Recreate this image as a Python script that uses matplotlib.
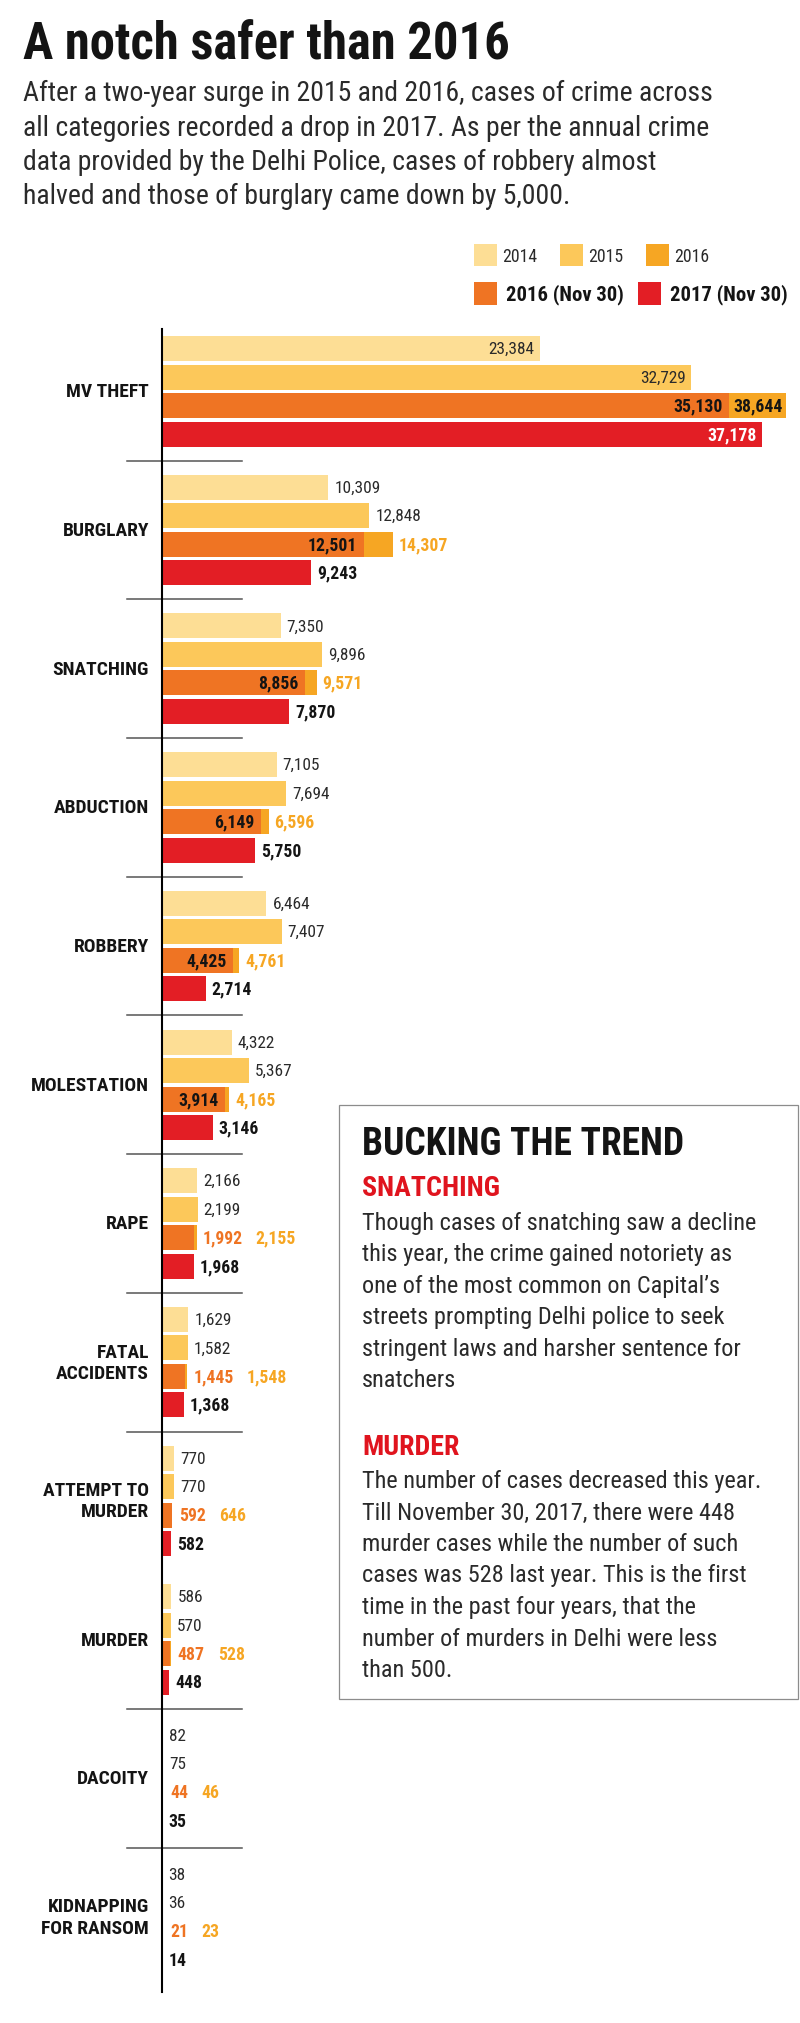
import matplotlib
matplotlib.use("Agg")
import matplotlib.pyplot as plt
import matplotlib.font_manager as fm
import matplotlib.transforms as mtransforms
from matplotlib.patches import Rectangle
from matplotlib.lines import Line2D

# ---------------- data ----------------
categories = ["MV THEFT", "BURGLARY", "SNATCHING", "ABDUCTION", "ROBBERY",
              "MOLESTATION", "RAPE", "FATAL\nACCIDENTS", "ATTEMPT TO\nMURDER",
              "MURDER", "DACOITY", "KIDNAPPING\nFOR RANSOM"]
y2014 = [23384, 10309, 7350, 7105, 6464, 4322, 2166, 1629, 770, 586, 82, 38]
y2015 = [32729, 12848, 9896, 7694, 7407, 5367, 2199, 1582, 770, 570, 75, 36]
y2016 = [38644, 14307, 9571, 6596, 4761, 4165, 2155, 1548, 646, 528, 46, 23]
y2016_nov30 = [35130, 12501, 8856, 6149, 4425, 3914, 1992, 1445, 592, 487, 44, 21]
y2017_nov30 = [37178, 9243, 7870, 5750, 2714, 3146, 1968, 1368, 582, 448, 35, 14]
no_rule_before = ["MURDER"]

legend_row1 = ["2014", "2015", "2016"]
legend_row2 = ["2016 (Nov 30)", "2017 (Nov 30)"]

title = "A notch safer than 2016"
subtitle = ["After a two-year surge in 2015 and 2016, cases of crime across",
            "all categories recorded a drop in 2017. As per the annual crime",
            "data provided by the Delhi Police, cases of robbery almost",
            "halved and those of burglary came down by 5,000."]
box_title = "BUCKING THE TREND"
box_head1 = "SNATCHING"
box_body1 = ["Though cases of snatching saw a decline",
             "this year, the crime gained notoriety as",
             "one of the most common on Capital\u2019s",
             "streets prompting Delhi police to seek",
             "stringent laws and harsher sentence for",
             "snatchers"]
box_head2 = "MURDER"
box_body2 = ["The number of cases decreased this year.",
             "Till November 30, 2017, there were 448",
             "murder cases while the number of such",
             "cases was 528 last year. This is the first",
             "time in the past four years, that the",
             "number of murders in Delhi were less",
             "than 500."]

# ---------------- style ----------------
C14, C15, C16, CNOV, C17 = "#FDDE95", "#FCC85A", "#F6A623", "#EF7423", "#E31E25"
DARK, TXT, RED = "#141414", "#2a2a2a", "#E0141E"

names = {f.name for f in fm.fontManager.ttflist}
FAM, STRETCH = None, "normal"
for c in ["Roboto Condensed", "Liberation Sans Narrow", "Noto Sans Condensed",
          "Open Sans Condensed", "DejaVu Sans Condensed", "Arial Narrow"]:
    if c in names:
        FAM = c
        break
if FAM is None:
    for pref in ["Roboto", "Noto Sans", "Open Sans", "DejaVu Sans", "Liberation Sans"]:
        for f in fm.fontManager.ttflist:
            if f.name == pref and "condensed" in str(f.stretch).lower():
                FAM, STRETCH = pref, "condensed"
                break
        if FAM:
            break
if FAM is None:
    FAM = "Roboto" if "Roboto" in names else "DejaVu Sans"


def fp(size, weight="normal"):
    return fm.FontProperties(family=FAM, stretch=STRETCH, weight=weight, size=size)


W, H = 800, 2024
fig = plt.figure(figsize=(W / 100, H / 100), dpi=100)
fig.patch.set_facecolor("white")
renderer = fig.canvas.get_renderer()


def fx(x):
    return x / W


def fy(y):
    return 1 - y / H


def fit(text, target_px, max_pt, weight="normal"):
    t = fig.text(0, 0, text, fontproperties=fp(20, weight))
    w = t.get_window_extent(renderer).width
    t.remove()
    return min(max_pt, 20 * target_px / w)


# ---------------- header ----------------
s_title = fit(title, 487, 38, "bold")
fig.text(fx(23), fy(60), title, fontproperties=fp(s_title, "bold"), color=DARK,
         va="baseline", ha="left")
s_sub = fit(subtitle[0], 726, 20)
for i, line in enumerate(subtitle):
    fig.text(fx(23), fy(101 + 34.5 * i), line, fontproperties=fp(s_sub), color=TXT,
             va="baseline", ha="left")

# legend
s_leg1 = fit("2014", 35, 15)
s_leg2 = fit(legend_row2[0], 118, 16, "bold")
row1_x = [474, 560, 646]
for lab, col, x in zip(legend_row1, [C14, C15, C16], row1_x):
    fig.patches.append(Rectangle((fx(x), fy(267)), 23 / W, 22 / H, transform=fig.transFigure,
                                 facecolor=col, edgecolor="none"))
    fig.text(fx(x + 28), fy(257), lab, fontproperties=fp(s_leg1), color=TXT,
             va="center", ha="left")
row2_x = [474, 638]
for lab, col, x in zip(legend_row2, [CNOV, C17], row2_x):
    fig.patches.append(Rectangle((fx(x), fy(306)), 23 / W, 23 / H, transform=fig.transFigure,
                                 facecolor=col, edgecolor="none"))
    fig.text(fx(x + 32), fy(295), lab, fontproperties=fp(s_leg2, "bold"), color=DARK,
             va="center", ha="left")

# ---------------- chart ----------------
GROUP_PX = 138.7
PX_PER_UNIT = 0.01615
ax_left, ax_right, ax_top, ax_bot = 162, 800, 320, 1993
ax = fig.add_axes([fx(ax_left), fy(ax_bot), (ax_right - ax_left) / W, (ax_bot - ax_top) / H])
ax.set_xlim(0, (ax_right - ax_left) / PX_PER_UNIT)
ax.set_ylim((ax_bot - ax_top) / GROUP_PX, 0)
ax.patch.set_alpha(0)
for sp in ["top", "right", "bottom"]:
    ax.spines[sp].set_visible(False)
ax.spines["left"].set_color("black")
ax.spines["left"].set_linewidth(1.5)
ax.spines["left"].set_bounds(10 / GROUP_PX, (ax_bot - ax_top) / GROUP_PX)
ax.set_xticks([])
ax.set_yticks([])

OFF0 = 29.5 / GROUP_PX
PITCH = 28.5 / GROUP_PX
BH = 25 / GROUP_PX
n = len(categories)
rows = [[g + OFF0 + j * PITCH for g in range(n)] for j in range(4)]

ax.barh(rows[0], y2014, height=BH, color=C14, linewidth=0)
ax.barh(rows[1], y2015, height=BH, color=C15, linewidth=0)
ax.barh(rows[2], y2016, height=BH, color=C16, linewidth=0)
ax.barh(rows[2], y2016_nov30, height=BH, color=CNOV, linewidth=0)
ax.barh(rows[3], y2017_nov30, height=BH, color=C17, linewidth=0)

s_val = fit("23,384", 46, 14)
s_valb = fit("12,501", 49, 14, "bold")


def lab(x, y, text, dx, ha, color, bold):
    return ax.annotate(text, xy=(x, y), xytext=(dx, 0), textcoords="offset pixels",
                       ha=ha, va="center", color=color,
                       fontproperties=fp(s_valb if bold else s_val, "bold" if bold else "normal"))


INSIDE = 20000
for g in range(n):
    for j, vals in enumerate([y2014, y2015]):
        v = vals[g]
        if v >= INSIDE:
            lab(v, rows[j][g], f"{v:,}", -5, "right", TXT, False)
        else:
            lab(v, rows[j][g], f"{v:,}", 6, "left", TXT, False)
    vn, vf = y2016_nov30[g], y2016[g]
    if vn >= 3000:
        lab(vn, rows[2][g], f"{vn:,}", -7, "right", DARK, True)
        if vf >= INSIDE:
            lab(vf, rows[2][g], f"{vf:,}", -3, "right", DARK, True)
        else:
            lab(vf, rows[2][g], f"{vf:,}", 6, "left", C16, True)
    else:
        t = lab(vn, rows[2][g], f"{vn:,}", 8, "left", CNOV, True)
        ax.annotate(f"{vf:,}", xy=(1, 0.5), xycoords=t, xytext=(13, 0),
                    textcoords="offset pixels", ha="left", va="center", color=C16,
                    fontproperties=fp(s_valb, "bold"))
    v = y2017_nov30[g]
    if v >= INSIDE:
        lab(v, rows[3][g], f"{v:,}", -6, "right", "white", True)
    else:
        lab(v, rows[3][g], f"{v:,}", 6, "left", DARK, True)

# separators and category labels
blend = mtransforms.blended_transform_factory(fig.transFigure, ax.transData)
for g in range(1, n):
    if categories[g] in no_rule_before:
        continue
    yy = g + 0.021
    ax.add_line(Line2D([fx(127), fx(242)], [yy, yy], transform=blend, color="#555555",
                       linewidth=1.1, clip_on=False))

s_cat = fit("MOLESTATION", 118, 15, "bold")
cat_ls = 24 / (s_cat * 100 / 72)
for g, c in enumerate(categories):
    ax.text(fx(149), g + OFF0 + 1.5 * PITCH, c, transform=blend, ha="right", va="center",
            multialignment="right", linespacing=cat_ls, color=DARK,
            fontproperties=fp(s_cat, "bold"))

# ---------------- text box ----------------
fig.patches.append(Rectangle((fx(339), fy(1700)), (798 - 339) / W, (1700 - 1106) / H,
                             transform=fig.transFigure, facecolor="none",
                             edgecolor="#8c8c8c", linewidth=0.9))
s_bt = fit(box_title, 327, 27, "bold")
fig.text(fx(362), fy(1155), box_title, fontproperties=fp(s_bt, "bold"), color=DARK,
         va="baseline", ha="left")
s_bh = fit(box_head1, 138, 21, "bold")
s_body = fit(box_body2[0], 400, 19)
fig.text(fx(362), fy(1196), box_head1, fontproperties=fp(s_bh, "bold"), color=RED,
         va="baseline", ha="left")
for i, line in enumerate(box_body1):
    fig.text(fx(362), fy(1230 + 31.4 * i), line, fontproperties=fp(s_body), color=TXT,
             va="baseline", ha="left")
fig.text(fx(362), fy(1455), box_head2, fontproperties=fp(s_bh, "bold"), color=RED,
         va="baseline", ha="left")
for i, line in enumerate(box_body2):
    fig.text(fx(362), fy(1488 + 31.5 * i), line, fontproperties=fp(s_body), color=TXT,
             va="baseline", ha="left")

fig.savefig("out.png", dpi=100, facecolor="white")
